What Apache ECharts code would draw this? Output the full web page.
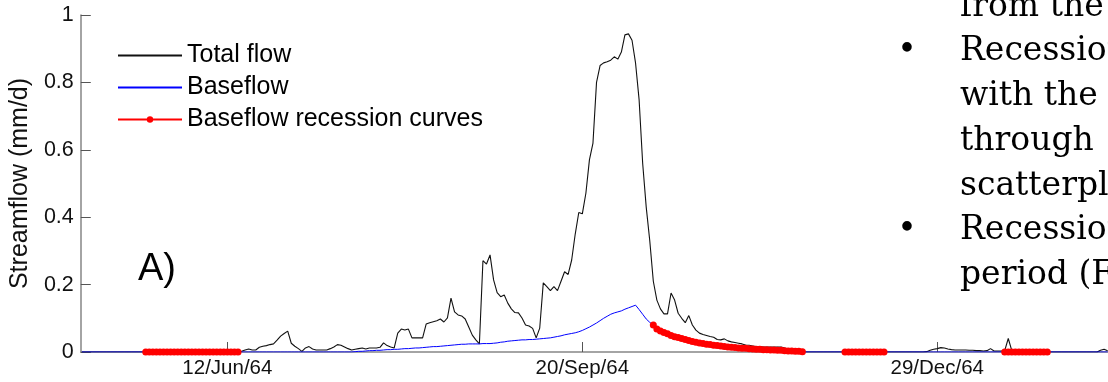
<!DOCTYPE html>
<html>
<head>
<meta charset="utf-8">
<title>Streamflow and baseflow, 1964</title>
<script src="https://cdn.jsdelivr.net/npm/echarts@6/dist/echarts.min.js"></script>
<style>
  html, body { margin: 0; padding: 0; background: #fff; }
  #chart { width: 1108px; height: 382px; }
</style>
</head>
<body>
<div id="chart"></div>
<script>
// Day index 0 is 12 June 1964; every series holds one value per day.
const DAY_ZERO = Date.UTC(1964, 5, 12);
const FIRST_DAY = -41;                 // first value in the daily arrays
const tickDays = [0, 100, 200];        // 12/Jun/64, 20/Sep/64, 29/Dec/64
const MONTHS = ['Jan','Feb','Mar','Apr','May','Jun','Jul','Aug','Sep','Oct','Nov','Dec'];

// Total flow (mm/d), days -41 .. 248
const totalFlow = [
  0,0,0,0,0,0,0,0,0,0, 0,0,0,0,0,0,0,0,0,0,
  0,0,0,0,0,0,0,0,0,0, 0,0,0,0,0,0,0,0,0,0,
  0,0,0,0,0,
  // day 4 ..
  0.002,0.006,0.009,0.006,0.006,0.014,0.017,0.019,0.022,0.024,
  0.035,0.047,0.055,0.062,0.026,0.017,0.010,0.002,0.012,0.016,
  0.009,0.006,0.006,0.006,0.006,0.010,0.015,0.022,0.020,0.015,
  0.010,0.006,0.008,0.010,0.012,0.009,0.012,0.012,0.012,0.014,
  0.027,0.019,0.015,0.012,0.056,0.068,0.065,0.068,0.042,0.042,
  0.042,0.042,0.083,0.087,0.090,0.093,0.098,0.089,0.101,0.160,
  0.119,0.110,0.107,0.098,0.074,0.050,0.036,0.024,0.271,0.261,
  0.288,0.214,0.176,0.164,0.169,0.145,0.128,0.117,0.116,0.101,
  0.080,0.077,0.070,0.042,0.071,0.205,0.194,0.182,0.194,0.182,
  0.210,0.238,0.230,0.273,0.350,0.414,0.410,0.471,0.570,0.620,
  0.800,0.850,0.858,0.861,0.866,0.876,0.869,0.890,0.941,0.944,
  0.925,0.857,0.748,0.560,0.430,0.330,0.210,0.154,0.128,0.113,
  0.113,0.175,0.154,0.115,0.100,0.087,0.108,0.080,0.065,0.056,
  0.052,0.049,0.046,0.044,0.037,0.036,0.039,0.033,0.030,0.028,
  0.026,0.024,0.021,0.020,0.018,0.016,0.016,0.015,0.015,0.015,
  0.015,0.015,0.015,0.012,0.008,0.005,0.003,0.002,
  // day 162 ..
  0,0,0,0,0,0,0,0,0,0, 0,0,0,0,0,0,0,0,0,0,
  0,0,0,0,0,0,0,0,0,0, 0,0,0,0,0,
  // day 197 ..
  0.001,0.005,0.008,0.010,0.013,0.012,0.009,0.007,0.006,0.006,
  0.006,0.006,0.005,0.005,0.004,0.004,0.003,0.004,0.010,0.003,
  0.003,0.003,0.004,0.040,0.004,0.002,0,0,0,0,
  0,0,0,0,0,0,0,0,0,0, 0,0,0,0,0,0,0,0,0,0.005,
  0.008,0.004
];

// Baseflow (mm/d), days -41 .. 248
const baseflow = [
  0,0,0,0,0,0,0,0,0,0, 0,0,0,0,0,0,0,0,0,0,
  0,0,0,0,0,0,0,0,0,0, 0,0,0,0,0,0,0,0,0,0,
  0,0,0,0,0,0,0,0,0,0, 0,0,0,0,0,0,0,0,0,0,
  0,0,0,0,0,0,0,0,0,0, 0,0,0,0,0,0,0,
  // day 36 ..
  0.001,0.002,0.002,0.003,0.004,0.004,0.005,0.005,0.006,0.007,
  0.007,0.008,0.008,0.009,0.010,0.010,0.011,0.012,0.012,0.013,
  0.014,0.015,0.016,0.016,0.017,0.018,0.019,0.020,0.021,0.022,
  0.023,0.023,0.024,0.024,0.024,0.024,0.025,0.025,0.025,0.026,
  0.027,0.029,0.030,0.032,0.033,0.034,0.035,0.036,0.036,0.037,
  0.037,0.038,0.039,0.040,0.041,0.042,0.044,0.046,0.048,0.051,
  0.053,0.055,0.057,0.060,0.064,0.069,0.074,0.080,0.086,0.093,
  0.100,0.106,0.112,0.116,0.119,0.122,0.127,0.131,0.135,0.139,
  0.126,0.112,0.098,0.088,
  // day 120 .. (recession)
  0.080,0.068,0.062,0.058,0.054,0.049,0.045,0.043,0.040,0.037,
  0.034,0.031,0.029,0.027,0.025,0.023,0.022,0.020,0.019,0.018,
  0.016,0.015,0.014,0.013,0.012,0.011,0.011,0.010,0.009,0.008,
  0.008,0.007,0.007,0.006,0.006,0.005,0.005,0.004,0.003,0.003,
  0.002,0.002,0.001,
  // day 163 ..
  0,0,0,0,0,0,0,0,0,0, 0,0,0,0,0,0,0,0,0,0,
  0,0,0,0,0,0,0,0,0,0, 0,0,0,0,0,0,0,0,0,0,
  0,0,0,0,0,0,0,0,0,0, 0,0,0,0,0,0,0,0,0,0,
  0,0,0,0,0,0,0,0,0,0, 0,0,0,0,0,0,0,0,0,0,
  0,0,0,0,0,0
];

// Baseflow recession curves: first day of each segment and its daily values
const recessionStarts = [-23, 120, 174, 219];
const recessionCurves = [
  [0,0,0,0,0,0,0,0,0,0, 0,0,0,0,0,0,0,0,0,0, 0,0,0,0,0,0,0],
  [0.080,0.068,0.062,0.058,0.054,0.049,0.045,0.043,0.040,0.037,
   0.034,0.031,0.029,0.027,0.025,0.023,0.022,0.020,0.019,0.018,
   0.016,0.015,0.014,0.013,0.012,0.011,0.011,0.010,0.009,0.008,
   0.008,0.007,0.007,0.006,0.006,0.005,0.005,0.004,0.003,0.003,
   0.002,0.002,0.001],
  [0,0,0,0,0,0,0,0,0,0,0,0],
  [0,0,0,0,0,0,0,0,0,0,0,0,0]
];

// Text block beside the chart
const noteLines = ['from the', 'Recession', 'with the', 'through', 'scatterplot', 'Recession', 'period (F'];
const bulletLines = [1, 5];

function dayLabel(d) {
  const t = new Date(DAY_ZERO + d * 86400000);
  return t.getUTCDate() + '/' + MONTHS[t.getUTCMonth()] + '/' + String(t.getUTCFullYear()).slice(2);
}

const flowData = totalFlow.map((v, i) => [FIRST_DAY + i, v]);
const baseData = baseflow.map((v, i) => [FIRST_DAY + i, v]);
const recessionData = [];
recessionCurves.forEach((seg, k) => {
  const s = recessionStarts[k];
  seg.forEach((v, i) => recessionData.push([s + i, v]));
  recessionData.push([s + seg.length, null]);   // break between segments
});

const SANS = '"Liberation Sans", Arial, sans-serif';
const SERIF = '"DejaVu Serif", "Liberation Serif", serif';
const AXIS_GREY = '#868686';

const noteGraphics = [];
const LINE_STEP = 44.7;
noteLines.forEach((txt, i) => {
  noteGraphics.push({
    type: 'text', silent: true,
    style: { text: txt, x: 960, y: 7.2 + i * LINE_STEP, font: '33px ' + SERIF,
             fill: '#000', verticalAlign: 'middle', textAlign: 'left' }
  });
});
bulletLines.forEach(i => {
  noteGraphics.push({
    type: 'text', silent: true,
    style: { text: '\u2022', x: 907, y: 7 + i * LINE_STEP, font: '33px ' + SERIF,
             fill: '#000', verticalAlign: 'middle', textAlign: 'center' }
  });
});

const chart = echarts.init(document.getElementById('chart'), null, { renderer: 'canvas' });
chart.setOption({
  animation: false,
  backgroundColor: '#fff',
  grid: { left: 80, right: 0, top: 15, bottom: 30, containLabel: false },
  legend: {
    orient: 'vertical', left: 117, top: 43, padding: 0,
    itemWidth: 64, itemHeight: 8, itemGap: 7,
    textStyle: { fontSize: 25, lineHeight: 24, fontFamily: SANS, color: '#000' },
    data: [
      { name: 'Total flow', itemStyle: { opacity: 0 } },
      { name: 'Baseflow', itemStyle: { opacity: 0 } },
      { name: 'Baseflow recession curves' }
    ]
  },
  xAxis: {
    type: 'value', min: -41.3, max: 248.1,
    axisLine: { show: true, onZero: false, lineStyle: { color: AXIS_GREY, width: 1.5 } },
    axisTick: { show: true, inside: true, length: 10, customValues: tickDays,
                lineStyle: { color: '#555', width: 1 } },
    axisLabel: { customValues: tickDays, formatter: dayLabel, fontSize: 20.5,
                 fontFamily: SANS, color: '#111', margin: 6 },
    splitLine: { show: false }
  },
  yAxis: {
    type: 'value', min: 0, max: 1, interval: 0.2,
    name: 'Streamflow (mm/d)', nameLocation: 'middle', nameGap: 44,
    nameTextStyle: { fontSize: 25, fontFamily: SANS, color: '#111' },
    axisLine: { show: true, onZero: false, lineStyle: { color: AXIS_GREY, width: 1.5 } },
    axisTick: { show: true, inside: true, length: 10, lineStyle: { color: '#555', width: 1 } },
    axisLabel: { fontSize: 21.5, fontFamily: SANS, color: '#111', margin: 7 },
    splitLine: { show: false }
  },
  series: [
    {
      name: 'Total flow', type: 'line', data: flowData, symbol: 'none',
      color: '#000', lineStyle: { color: '#111', width: 1.1 }, z: 2
    },
    {
      name: 'Baseflow', type: 'line', data: baseData, symbol: 'none',
      color: '#0000ff', lineStyle: { color: '#0000ff', width: 1 }, z: 3
    },
    {
      name: 'Baseflow recession curves', type: 'line', data: recessionData,
      symbol: 'circle', symbolSize: 7, showSymbol: true, showAllSymbol: true,
      connectNulls: false, clip: false,
      color: '#ff0000', itemStyle: { color: '#ff0000' },
      lineStyle: { color: '#ff0000', width: 1.5 }, z: 4
    }
  ],
  graphic: [
    { type: 'text', silent: true,
      style: { text: 'A)', x: 138, y: 270, font: '38px ' + SANS, fill: '#000',
               verticalAlign: 'middle', textAlign: 'left' } }
  ].concat(noteGraphics)
});
</script>
</body>
</html>
